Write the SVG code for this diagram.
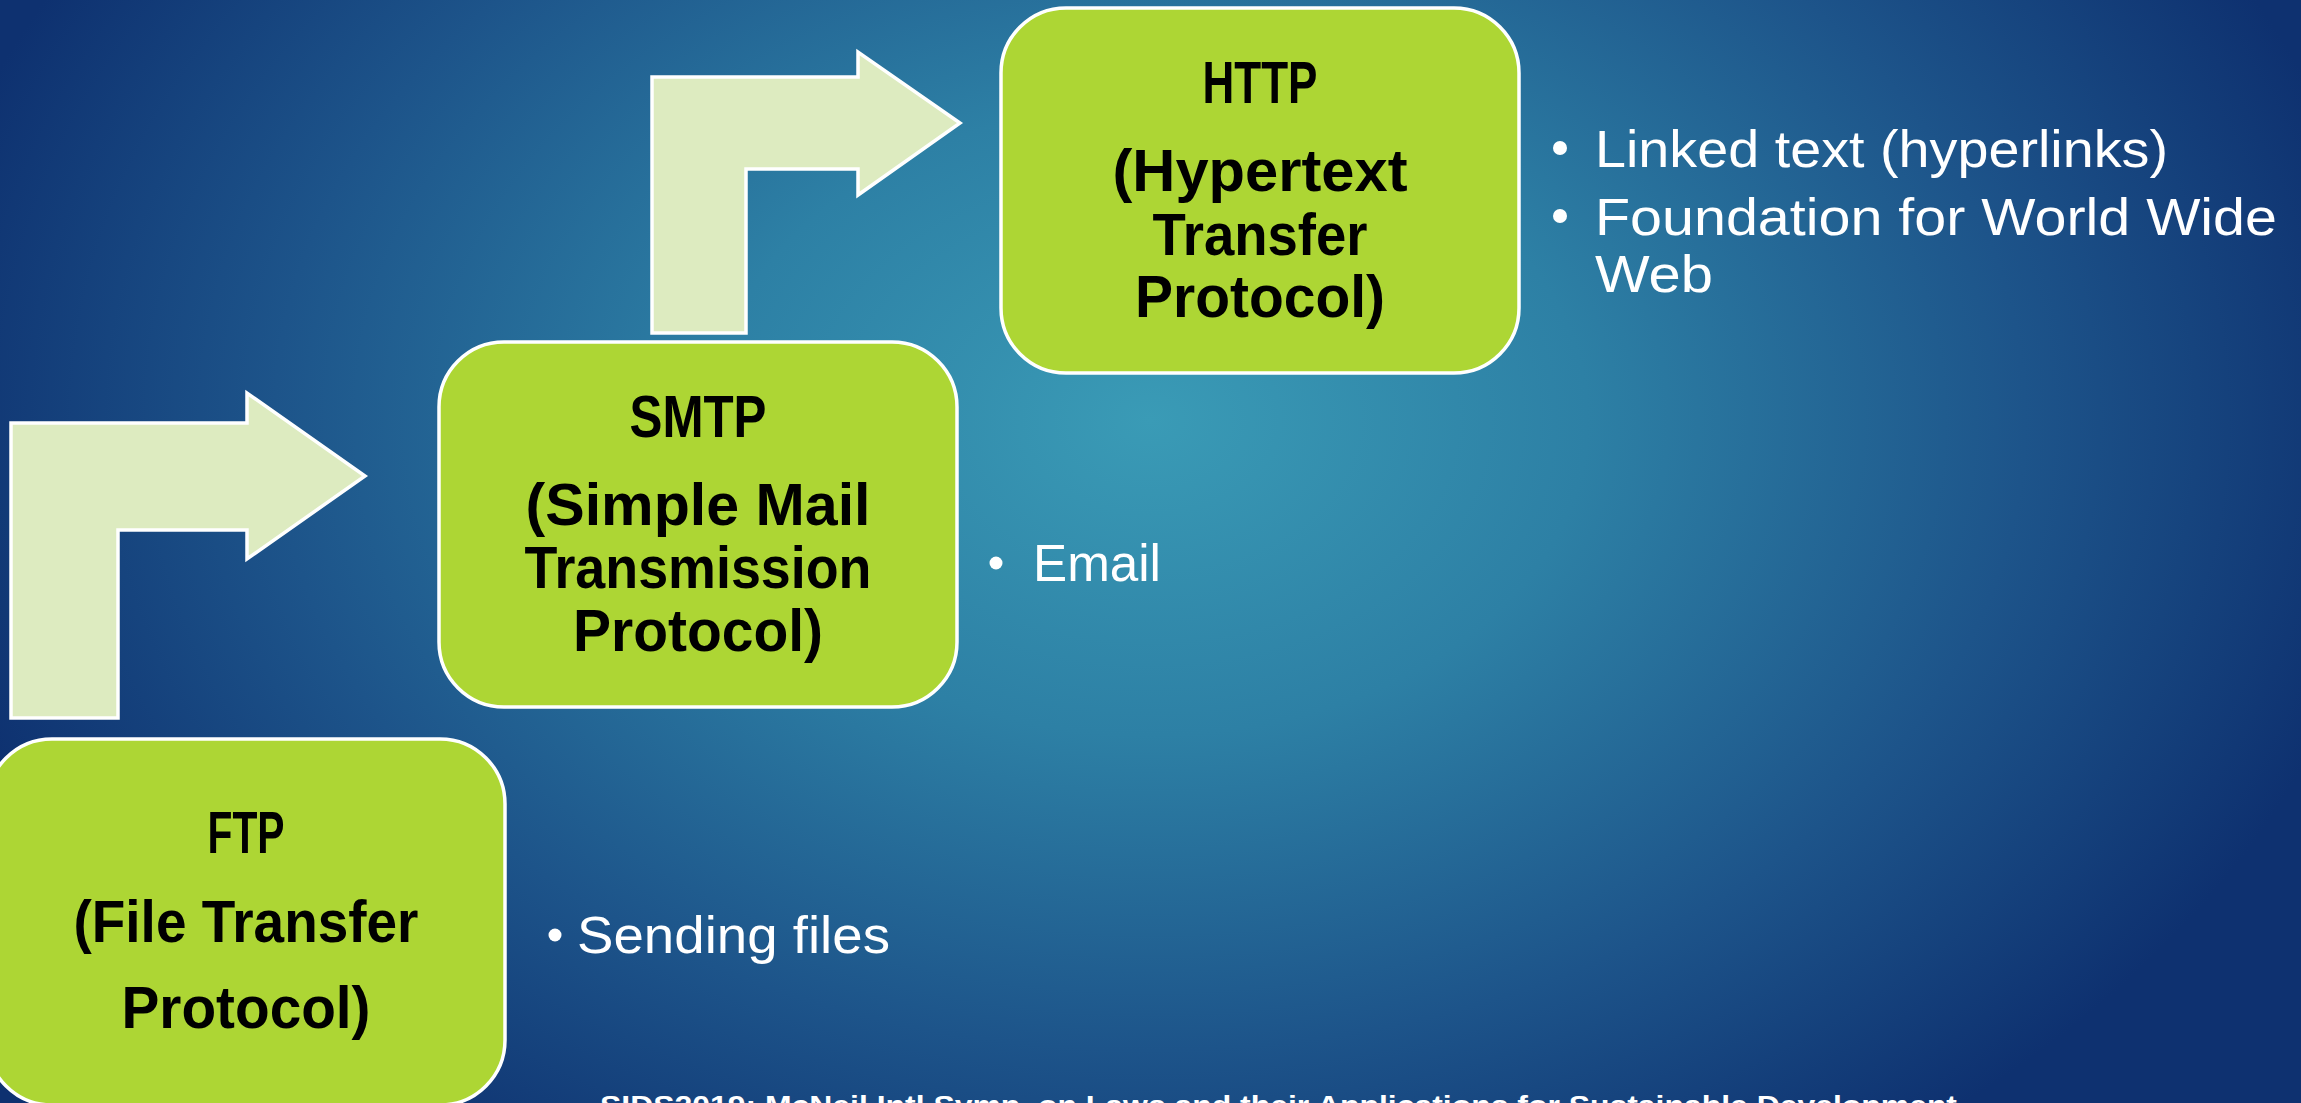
<svg xmlns="http://www.w3.org/2000/svg" width="2301" height="1103" viewBox="0 0 2301 1103">
  <defs>
    <radialGradient id="bg" gradientUnits="userSpaceOnUse" cx="1150" cy="420" r="1250" gradientTransform="translate(1150 420) scale(1 0.72) translate(-1150 -420)">
      <stop offset="0" stop-color="#3A9BB6"/>
      <stop offset="0.35" stop-color="#2D80A5"/>
      <stop offset="0.7" stop-color="#1D548A"/>
      <stop offset="1" stop-color="#0E3170"/>
    </radialGradient>
  </defs>
  <style>
    .box { fill: #ADD634; stroke: #FFFFFF; stroke-width: 3.5; }
    .arrow { fill: #DDEBC0; stroke: #FFFFFF; stroke-width: 3.5; stroke-linejoin: miter; }
    .title { font-family: "Liberation Sans", Arial, sans-serif; font-weight: bold; font-size: 59px; fill: #000000; text-anchor: middle; }
    .bullet { font-family: "Liberation Sans", Arial, sans-serif; font-size: 52px; fill: #FFFFFF; }
    .dot { fill: #FFFFFF; }
    .footer { font-family: "Liberation Sans", Arial, sans-serif; font-weight: bold; font-size: 28px; fill: #FFFFFF; }
  </style>

  <!-- slide background -->
  <rect x="0" y="0" width="2301" height="1103" fill="url(#bg)"/>

  <!-- bent arrows leading from one protocol to the next -->
  <g id="connectors">
    <path class="arrow" d="M11,718 L11,423 L247,423 L247,393 L365,476 L247,559 L247,530 L118,530 L118,718 Z"/>
    <path class="arrow" d="M652,333 L652,77 L858,77 L858,52 L960,123 L858,195 L858,169 L746,169 L746,333 Z"/>
  </g>

  <!-- FTP -->
  <g id="ftp">
    <rect class="box" x="-13" y="739" width="518" height="366" rx="65" ry="65"/>
    <text class="title" x="246" y="853" textLength="77" lengthAdjust="spacingAndGlyphs">FTP</text>
    <text class="title" x="246" y="942" textLength="345" lengthAdjust="spacingAndGlyphs">(File Transfer</text>
    <text class="title" x="246" y="1028" textLength="249" lengthAdjust="spacingAndGlyphs">Protocol)</text>
  </g>
  <g id="ftp-notes">
    <circle class="dot" cx="555" cy="935" r="6.5"/>
    <text class="bullet" x="577" y="953" textLength="313" lengthAdjust="spacingAndGlyphs">Sending files</text>
  </g>

  <!-- SMTP -->
  <g id="smtp">
    <rect class="box" x="439" y="342" width="518" height="365" rx="65" ry="65"/>
    <text class="title" x="698" y="437" textLength="137" lengthAdjust="spacingAndGlyphs">SMTP</text>
    <text class="title" x="698" y="525" textLength="345" lengthAdjust="spacingAndGlyphs">(Simple Mail</text>
    <text class="title" x="698" y="588" textLength="347" lengthAdjust="spacingAndGlyphs">Transmission</text>
    <text class="title" x="698" y="651" textLength="250" lengthAdjust="spacingAndGlyphs">Protocol)</text>
  </g>
  <g id="smtp-notes">
    <circle class="dot" cx="996" cy="563" r="6.5"/>
    <text class="bullet" x="1033" y="581" textLength="128" lengthAdjust="spacingAndGlyphs">Email</text>
  </g>

  <!-- HTTP -->
  <g id="http">
    <rect class="box" x="1001" y="8" width="518" height="365" rx="65" ry="65"/>
    <text class="title" x="1260" y="103" textLength="115" lengthAdjust="spacingAndGlyphs">HTTP</text>
    <text class="title" x="1260" y="191" textLength="295" lengthAdjust="spacingAndGlyphs">(Hypertext</text>
    <text class="title" x="1260" y="255" textLength="215" lengthAdjust="spacingAndGlyphs">Transfer</text>
    <text class="title" x="1260" y="317" textLength="250" lengthAdjust="spacingAndGlyphs">Protocol)</text>
  </g>
  <g id="http-notes">
    <circle class="dot" cx="1560" cy="148" r="7"/>
    <text class="bullet" x="1595" y="167" textLength="573" lengthAdjust="spacingAndGlyphs">Linked text (hyperlinks)</text>
    <circle class="dot" cx="1560" cy="216" r="7"/>
    <text class="bullet" x="1595" y="235" textLength="682" lengthAdjust="spacingAndGlyphs">Foundation for World Wide</text>
    <text class="bullet" x="1595" y="292" textLength="118" lengthAdjust="spacingAndGlyphs">Web</text>
  </g>

  <!-- footer line -->
  <text class="footer" x="600" y="1115" textLength="1357" lengthAdjust="spacingAndGlyphs">SIDS2019: McNeil Intl Symp. on Laws and their Applications for Sustainable Development</text>
</svg>
